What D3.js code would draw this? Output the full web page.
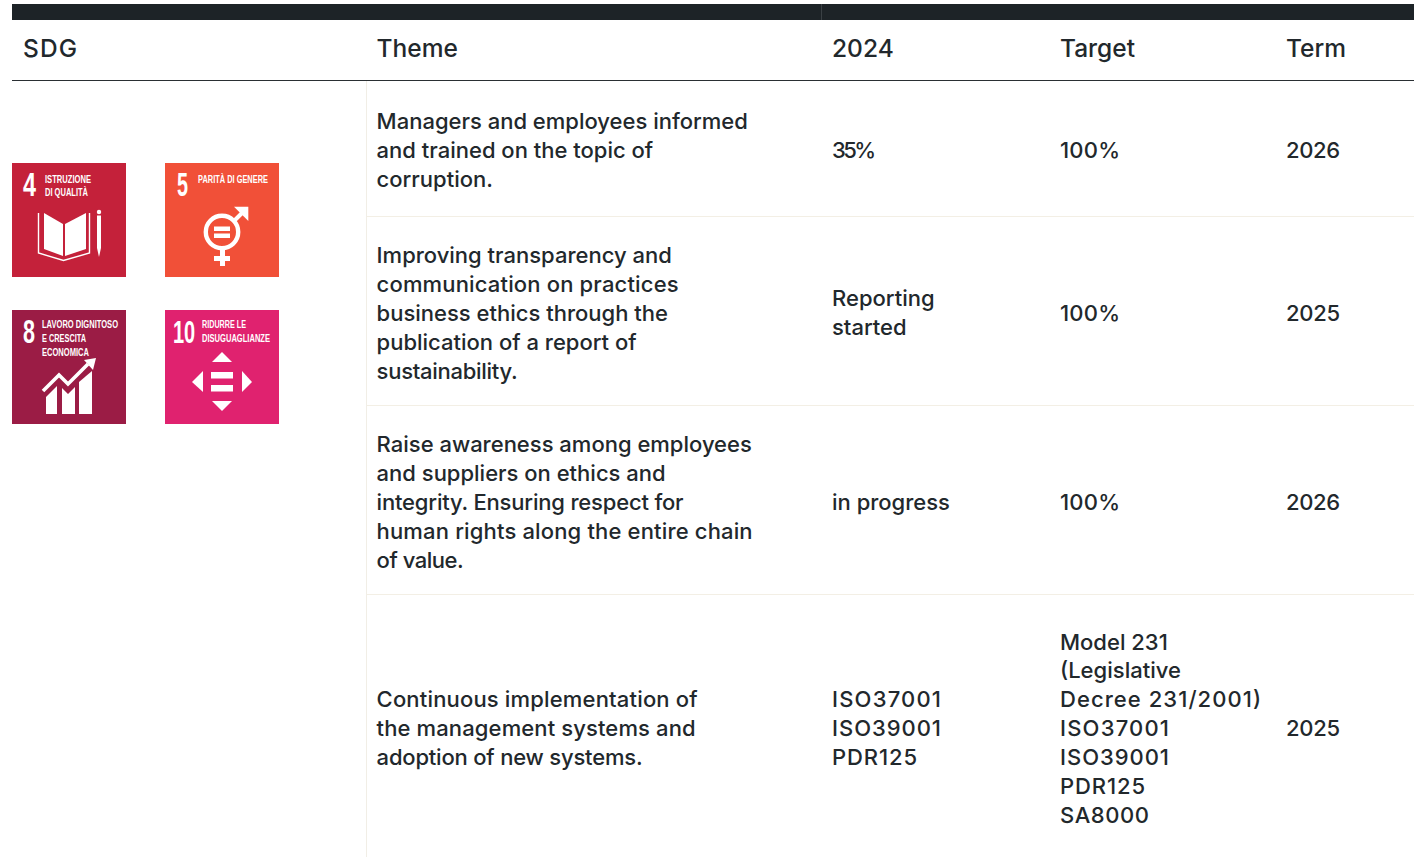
<!DOCTYPE html>
<html>
<head>
<meta charset="utf-8">
<script src="https://cdn.jsdelivr.net/npm/d3@7"></script>
<style>
  html, body { margin: 0; padding: 0; background: #fff; overflow: hidden; }
  svg { display: block; }
  .cell { font-family: Inter, "Noto Sans", sans-serif; font-size: 22px; font-weight: 500; fill: #22282c; }
  .head { font-family: Inter, "Noto Sans", sans-serif; font-size: 24.5px; font-weight: 500; fill: #22282c; }
  .sdg { font-family: "Liberation Sans Narrow", "Liberation Sans", sans-serif; font-weight: 700; fill: #fff; }
</style>
</head>
<body>
<svg id="chart" width="1414" height="857"></svg>
<script>
const columns = ["SDG", "Theme", "2024", "Target", "Term"];

const themes = [
  ["Managers and employees informed", "and trained on the topic of", "corruption."],
  ["Improving transparency and", "communication on practices", "business ethics through the", "publication of a report of", "sustainability."],
  ["Raise awareness among employees", "and suppliers on ethics and", "integrity. Ensuring respect for", "human rights along the entire chain", "of value."],
  ["Continuous implementation of", "the management systems and", "adoption of new systems."]
];
const status2024 = [["35%"], ["Reporting", "started"], ["in progress"], ["ISO37001", "ISO39001", "PDR125"]];
const targets = [
  ["100%"], ["100%"], ["100%"],
  ["Model 231", "(Legislative", "Decree 231/2001)", "ISO37001", "ISO39001", "PDR125", "SA8000"]
];
const terms = ["2026", "2025", "2026", "2025"];

const sdgNumbers = ["4", "5", "8", "10"];
const sdgColors = ["#c4213a", "#f15038", "#9b1c45", "#e0226f"];
const sdgLabels = [
  ["ISTRUZIONE", "DI QUALITÀ"],
  ["PARITÀ DI GENERE"],
  ["LAVORO DIGNITOSO", "E CRESCITA", "ECONOMICA"],
  ["RIDURRE LE", "DISUGUAGLIANZE"]
];

// layout
const colX = [23, 376.6, 832, 1060, 1286];
const rowLines = [216, 405, 594];
const rowMiddles = [150, 313, 502, 728.3];
const lineHeight = 28.9;
const iconSize = 114;
const iconX = [12, 165, 12, 165];
const iconY = [163, 163, 310, 310];
// strings the original font sets at another width than Inter does
const lineWidths = {
  "ISO37001": 109, "ISO39001": 109, "PDR125": 85, "SA8000": 89,
  "(Legislative": 121, "Decree 231/2001)": 201, "35%": 44, "100%": 60,
  "2026": 54, "2025": 54,
  "communication on practices": 302, "sustainability.": 141,
  "integrity. Ensuring respect for": 307, "human rights along the entire chain": 376,
  "of value.": 87, "Continuous implementation of": 321,
  "the management systems and": 319, "adoption of new systems.": 266
};

const svg = d3.select("#chart");
const x = d3.scaleOrdinal(columns, colX);

// top band + header rule
svg.append("rect").attr("x", 12).attr("y", 4).attr("width", 1402).attr("height", 16).attr("fill", "#1d2327");
svg.append("line").attr("x1", 821.5).attr("x2", 821.5).attr("y1", 4).attr("y2", 20).attr("stroke", "#3a4044");
svg.append("line").attr("x1", 12).attr("x2", 1414).attr("y1", 80.5).attr("y2", 80.5).attr("stroke", "#2a2f33");

// cell rules
svg.append("line").attr("x1", 366.5).attr("x2", 366.5).attr("y1", 81).attr("y2", 857).attr("stroke", "#f1eee6");
svg.selectAll(".rule").data(rowLines).enter().append("line")
  .attr("class", "rule")
  .attr("x1", 367).attr("x2", 1414)
  .attr("y1", d => d + 0.5).attr("y2", d => d + 0.5)
  .attr("stroke", "#f3efe5");

// header labels
svg.selectAll(".head").data(columns).enter().append("text")
  .attr("class", "head")
  .attr("x", d => x(d))
  .attr("y", 57)
  .attr("textLength", d => d === "SDG" ? 54 : null)
  .text(d => d);

function cellText(col, rows) {
  const g = svg.append("g");
  rows.forEach((lines, r) => {
    const top = rowMiddles[r] - (lines.length - 1) * lineHeight / 2;
    g.selectAll(null).data(lines).enter().append("text")
      .attr("class", "cell")
      .attr("x", x(col))
      .attr("y", (d, i) => top + i * lineHeight)
      .attr("dy", "0.36em")
      .attr("textLength", d => lineWidths[d] || null)
      .text(d => d);
  });
}
cellText("Theme", themes);
cellText("2024", status2024);
cellText("Target", targets);
cellText("Term", terms.map(t => [t]));

// pictograms, drawn in the icon's own 114 unit box
function poly(g, pts) {
  g.append("polygon").attr("points", pts).attr("fill", "#fff");
}
function box(g, a, b, w, h) {
  g.append("rect").attr("x", a).attr("y", b).attr("width", w).attr("height", h).attr("fill", "#fff");
}
const pictograms = {
  "4": g => {
    poly(g, "32,50 51,61 51,93 32,86");
    poly(g, "53,61 74,50 74,86 53,93");
    g.append("path").attr("d", "M26.5,50V90L51.5,97.5L77.5,90V50").attr("fill", "none").attr("stroke", "#fff").attr("stroke-width", 1.4);
    g.append("circle").attr("cx", 87).attr("cy", 49).attr("r", 2.2).attr("fill", "#fff");
    poly(g, "85,52.5 89,52.5 89,85 87,94 85,85");
  },
  "5": g => {
    g.append("circle").attr("cx", 57).attr("cy", 69).attr("r", 16.2).attr("fill", "none").attr("stroke", "#fff").attr("stroke-width", 4.4);
    box(g, 49, 63.5, 16, 4.5);
    box(g, 49, 70.5, 16, 4.5);
    poly(g, "69,43.7 83.3,43.7 83.3,58");
    g.append("line").attr("x1", 69).attr("y1", 58).attr("x2", 80).attr("y2", 47).attr("stroke", "#fff").attr("stroke-width", 4);
    box(g, 55, 87, 5, 16);
    box(g, 49, 93, 16, 5);
  },
  "8": g => {
    g.append("polyline").attr("points", "31,81 47,65 56,74 76,54").attr("fill", "none").attr("stroke", "#fff").attr("stroke-width", 3.6);
    poly(g, "72,50 84,48 81,60");
    poly(g, "34,87 45,76 45,104 34,104");
    poly(g, "50,78 56,84 63,77 63,104 50,104");
    poly(g, "67,72 80,61 80,104 67,104");
  },
  "10": g => {
    poly(g, "47,52 57,42 67,52");
    poly(g, "47,91 67,91 57,101");
    poly(g, "38,61 38,82 27,72");
    poly(g, "77,61 77,82 87,72");
    box(g, 46, 62, 22, 6.5);
    box(g, 46, 75, 22, 6.5);
  }
};
const numberBox = { "4": [11, 13], "5": [12, 11], "8": [11, 12], "10": [8, 22] };
const labelBox = {
  "4": [33, [46, 43]],
  "5": [33, [70]],
  "8": [30, [76, 44, 47]],
  "10": [37, [44, 68]]
};

sdgNumbers.forEach((n, i) => {
  const g = svg.append("g").attr("transform", `translate(${iconX[i]},${iconY[i]})`);
  box(g, 0, 0, iconSize, iconSize);
  g.select("rect").attr("fill", sdgColors[i]);
  // the two digit number is set small and stretched so it stays clear of its label
  const num = g.append("text").attr("class", "sdg").text(n);
  if (n === "10") {
    num.attr("font-size", 20)
      .attr("transform", `translate(${numberBox[n][0]},32.5) scale(1,1.6)`);
  } else {
    num.attr("x", numberBox[n][0]).attr("y", 32.5)
      .attr("font-size", 33)
      .attr("textLength", numberBox[n][1]).attr("lengthAdjust", "spacingAndGlyphs");
  }
  g.selectAll(".lab").data(sdgLabels[i]).enter().append("text")
    .attr("class", "sdg lab")
    .attr("x", labelBox[n][0])
    .attr("y", (d, k) => (n === "8" || n === "10" ? 18.3 : 19.5) + k * 13.7)
    .attr("font-size", 11.8)
    .attr("textLength", (d, k) => labelBox[n][1][k]).attr("lengthAdjust", "spacingAndGlyphs")
    .text(d => d);
  pictograms[n](g);
});
</script>
</body>
</html>
